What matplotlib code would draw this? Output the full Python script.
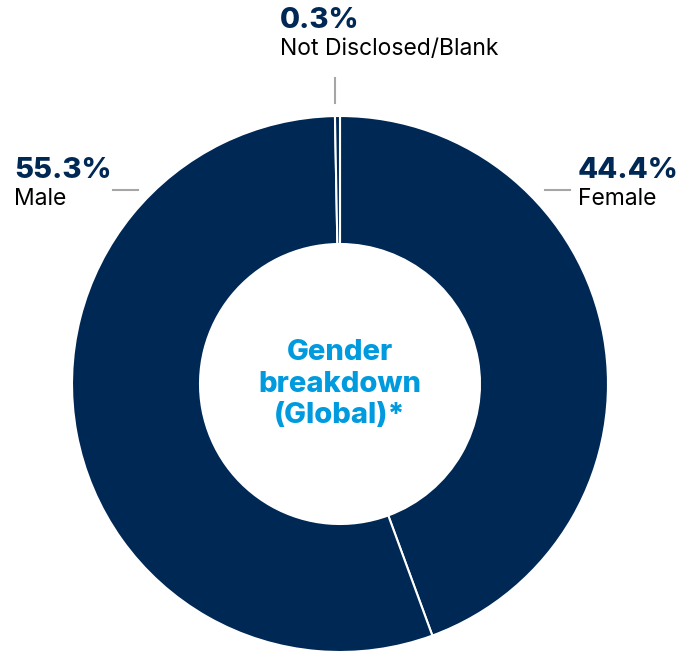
import matplotlib.pyplot as plt

labels = ["Female", "Male", "Not Disclosed/Blank"]
shares = [44.4, 55.3, 0.3]
pct_text = ["44.4%", "55.3%", "0.3%"]

navy = "#002855"
blue = "#009ADE"
grey = "#a6a6a6"

plt.rcParams["font.family"] = ["Inter", "DejaVu Sans"]

W, H = 679, 658
fig = plt.figure(figsize=(W / 100, H / 100), dpi=100)
ax = fig.add_axes([0, 0, 1, 1])

# donut, positioned in pixel coords (y measured from bottom)
cx, cy, r = 340, H - 384, 268
ax.pie(
    shares,
    colors=[navy] * len(shares),
    startangle=90,
    counterclock=False,
    center=(cx, cy),
    radius=r,
    frame=True,
    wedgeprops=dict(width=128, edgecolor="white", linewidth=1.5),
)
ax.set_xlim(0, W)
ax.set_ylim(0, H)
ax.set_aspect("equal")
ax.axis("off")

ax.text(cx, cy, "Gender\nbreakdown\n(Global)*", ha="center", va="center",
        color=blue, fontsize=21, fontweight="heavy", linespacing=1.2)

# labels: (x, pct y, name y)
lab_pos = {
    "Female": (578, 170, 199),
    "Male": (14, 170, 199),
    "Not Disclosed/Blank": (280, 20, 49),
}
for name, pct in zip(labels, pct_text):
    x, yp, yn = lab_pos[name]
    ax.text(x, H - yp, pct, ha="left", va="center", color=navy,
            fontsize=21, fontweight="heavy")
    ax.text(x, H - yn, name, ha="left", va="center", color="black",
            fontsize=16.5)

# leader lines
ax.plot([545, 570], [H - 190, H - 190], color=grey, lw=1.5)
ax.plot([113, 138], [H - 190, H - 190], color=grey, lw=1.5)
ax.plot([335, 335], [H - 78, H - 103], color=grey, lw=1.5)

fig.savefig("out.png", dpi=100)
